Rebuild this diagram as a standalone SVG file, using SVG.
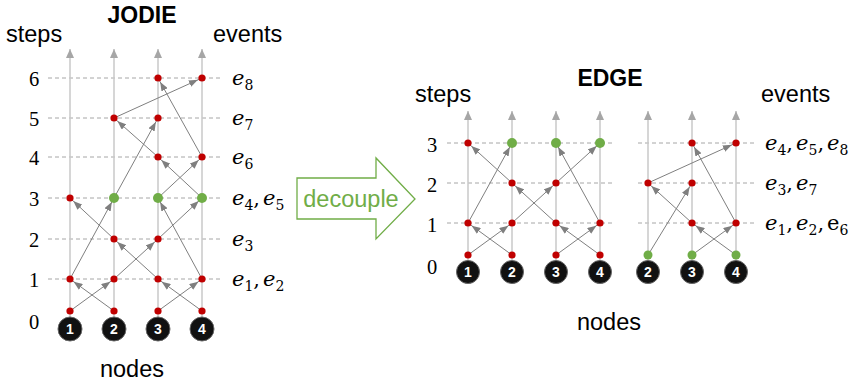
<svg xmlns="http://www.w3.org/2000/svg" width="853" height="387" viewBox="0 0 853 387">
<style>
.lbl{font-family:"Liberation Sans",Arial,sans-serif;font-size:23.5px;fill:#000}
.ttl{font-family:"Liberation Sans",Arial,sans-serif;font-size:23px;font-weight:bold;fill:#000}
.num{font-family:"Liberation Serif","Times New Roman",serif;font-size:20.5px;fill:#000;text-anchor:middle}
.ev{font-family:"DejaVu Serif","Liberation Serif",serif;font-size:21px;fill:#000}
.ev .i{font-style:italic}
.sub{font-size:14px}
.axis{stroke:#c8c8c8;stroke-width:1.5;fill:none}
.dash{stroke:#a6a6a6;stroke-width:1;stroke-dasharray:4 3;fill:none}
.edge{stroke:#7f7f7f;stroke-width:1;fill:none}
.red{fill:#c00000}
.grn{fill:#70ad47}
.nd circle{fill:#111;stroke:#666;stroke-width:1}
.nd text{font-family:"Liberation Sans",Arial,sans-serif;font-size:14px;font-weight:bold;fill:#fff;text-anchor:middle}
</style>
<defs>
<marker id="ah" markerUnits="userSpaceOnUse" markerWidth="9" markerHeight="7" refX="13.5" refY="3.5" orient="auto">
<path d="M0,0 L9,3.5 L0,7 z" fill="#7f7f7f"/>
</marker>
<marker id="up" markerUnits="userSpaceOnUse" markerWidth="9" markerHeight="8" refX="9" refY="4" orient="auto">
<path d="M0,0 L9,4 L0,8 z" fill="#a6a6a6"/>
</marker>
</defs>

<!-- JODIE panel -->
<g id="jodie-labels">
<text class="ttl" x="142" y="23" text-anchor="middle">JODIE</text>
<text class="lbl" x="6" y="42">steps</text>
<text class="lbl" x="213" y="42">events</text>
<text class="lbl" x="132" y="377" text-anchor="middle">nodes</text>
<text class="num" x="34" y="86">6</text>
<text class="num" x="34" y="126">5</text>
<text class="num" x="34" y="165">4</text>
<text class="num" x="34" y="206">3</text>
<text class="num" x="34" y="247">2</text>
<text class="num" x="34" y="287">1</text>
<text class="num" x="34" y="329">0</text>
<text class="ev" x="232" y="85"><tspan class="i">e</tspan><tspan class="sub" dy="5">8</tspan></text>
<text class="ev" x="232" y="125"><tspan class="i">e</tspan><tspan class="sub" dy="5">7</tspan></text>
<text class="ev" x="232" y="164"><tspan class="i">e</tspan><tspan class="sub" dy="5">6</tspan></text>
<text class="ev" x="232" y="205"><tspan class="i">e</tspan><tspan class="sub" dy="5">4</tspan><tspan dy="-5">,</tspan><tspan class="i" dx="3">e</tspan><tspan class="sub" dy="5">5</tspan></text>
<text class="ev" x="232" y="246"><tspan class="i">e</tspan><tspan class="sub" dy="5">3</tspan></text>
<text class="ev" x="232" y="286"><tspan class="i">e</tspan><tspan class="sub" dy="5">1</tspan><tspan dy="-5">,</tspan><tspan class="i" dx="3">e</tspan><tspan class="sub" dy="5">2</tspan></text>
</g>
<g id="jodie-grid">
<line class="dash" x1="48" y1="78" x2="223" y2="78"/>
<line class="dash" x1="48" y1="118" x2="223" y2="118"/>
<line class="dash" x1="48" y1="157" x2="223" y2="157"/>
<line class="dash" x1="48" y1="198" x2="223" y2="198"/>
<line class="dash" x1="48" y1="239" x2="223" y2="239"/>
<line class="dash" x1="48" y1="279" x2="223" y2="279"/>
<line class="axis" x1="70" y1="318" x2="70" y2="49" marker-end="url(#up)"/>
<line class="axis" x1="114" y1="318" x2="114" y2="49" marker-end="url(#up)"/>
<line class="axis" x1="158" y1="318" x2="158" y2="49" marker-end="url(#up)"/>
<line class="axis" x1="202" y1="318" x2="202" y2="49" marker-end="url(#up)"/>
</g>
<g id="jodie-connectors">
<line class="edge" x1="70" y1="311" x2="114" y2="279" marker-end="url(#ah)"/>
<line class="edge" x1="114" y1="311" x2="70" y2="279" marker-end="url(#ah)"/>
<line class="edge" x1="158" y1="311" x2="202" y2="279" marker-end="url(#ah)"/>
<line class="edge" x1="202" y1="311" x2="158" y2="279" marker-end="url(#ah)"/>
<line class="edge" x1="70" y1="279" x2="114" y2="198" marker-end="url(#ah)"/>
<line class="edge" x1="114" y1="239" x2="70" y2="198" marker-end="url(#ah)"/>
<line class="edge" x1="158" y1="279" x2="114" y2="239" marker-end="url(#ah)"/>
<line class="edge" x1="114" y1="279" x2="158" y2="239" marker-end="url(#ah)"/>
<line class="edge" x1="158" y1="239" x2="202" y2="198" marker-end="url(#ah)"/>
<line class="edge" x1="202" y1="279" x2="158" y2="198" marker-end="url(#ah)"/>
<line class="edge" x1="158" y1="198" x2="202" y2="157" marker-end="url(#ah)"/>
<line class="edge" x1="202" y1="198" x2="158" y2="157" marker-end="url(#ah)"/>
<line class="edge" x1="114" y1="198" x2="158" y2="118" marker-end="url(#ah)"/>
<line class="edge" x1="158" y1="157" x2="114" y2="118" marker-end="url(#ah)"/>
<line class="edge" x1="114" y1="118" x2="202" y2="78" marker-end="url(#ah)"/>
<line class="edge" x1="202" y1="157" x2="158" y2="78" marker-end="url(#ah)"/>
</g>
<g id="jodie-dots">
<circle class="red" cx="70" cy="311" r="3.6"/><circle class="red" cx="114" cy="311" r="3.6"/><circle class="red" cx="158" cy="311" r="3.6"/><circle class="red" cx="202" cy="311" r="3.6"/>
<circle class="red" cx="70" cy="279" r="3.6"/><circle class="red" cx="114" cy="279" r="3.6"/><circle class="red" cx="158" cy="279" r="3.6"/><circle class="red" cx="202" cy="279" r="3.6"/>
<circle class="red" cx="114" cy="239" r="3.6"/><circle class="red" cx="158" cy="239" r="3.6"/>
<circle class="red" cx="70" cy="198" r="3.6"/><circle class="grn" cx="114" cy="198" r="5"/><circle class="grn" cx="158" cy="198" r="5"/><circle class="grn" cx="202" cy="198" r="5"/>
<circle class="red" cx="158" cy="157" r="3.6"/><circle class="red" cx="202" cy="157" r="3.6"/>
<circle class="red" cx="114" cy="118" r="3.6"/><circle class="red" cx="158" cy="118" r="3.6"/>
<circle class="red" cx="158" cy="78" r="3.6"/><circle class="red" cx="202" cy="78" r="3.6"/>
</g>
<g id="jodie-node-1" class="nd"><circle cx="70" cy="329" r="12"/><text x="70" y="334">1</text></g>
<g id="jodie-node-2" class="nd"><circle cx="114" cy="329" r="12"/><text x="114" y="334">2</text></g>
<g id="jodie-node-3" class="nd"><circle cx="158" cy="329" r="12"/><text x="158" y="334">3</text></g>
<g id="jodie-node-4" class="nd"><circle cx="202" cy="329" r="12"/><text x="202" y="334">4</text></g>

<!-- decouple arrow -->
<g id="decouple">
<polygon points="297,178 376,178 376,158 415,199 376,239 376,219 297,219" fill="#fff" stroke="#70ad47" stroke-width="1.3"/>
<text x="351" y="207" text-anchor="middle" style="font-family:'Liberation Sans',Arial,sans-serif;font-size:23.5px;fill:#70ad47">decouple</text>
</g>

<!-- EDGE panel -->
<g id="edge-labels">
<text class="ttl" x="610" y="86" text-anchor="middle">EDGE</text>
<text class="lbl" x="415" y="102">steps</text>
<text class="lbl" x="761" y="102">events</text>
<text class="lbl" x="609" y="330" text-anchor="middle">nodes</text>
<text class="num" x="432" y="152">3</text>
<text class="num" x="432" y="192">2</text>
<text class="num" x="432" y="232">1</text>
<text class="num" x="432" y="274">0</text>
<text class="ev" x="765" y="150"><tspan class="i">e</tspan><tspan class="sub" dy="5">4</tspan><tspan dy="-5">,</tspan><tspan class="i" dx="3">e</tspan><tspan class="sub" dy="5">5</tspan><tspan dy="-5">,</tspan><tspan class="i" dx="3">e</tspan><tspan class="sub" dy="5">8</tspan></text>
<text class="ev" x="765" y="190"><tspan class="i">e</tspan><tspan class="sub" dy="5">3</tspan><tspan dy="-5">,</tspan><tspan class="i" dx="3">e</tspan><tspan class="sub" dy="5">7</tspan></text>
<text class="ev" x="765" y="230"><tspan class="i">e</tspan><tspan class="sub" dy="5">1</tspan><tspan dy="-5">,</tspan><tspan class="i" dx="3">e</tspan><tspan class="sub" dy="5">2</tspan><tspan dy="-5">,</tspan><tspan dx="3">e</tspan><tspan class="sub" dy="5">6</tspan></text>
</g>
<g id="edge-grid">
<line class="dash" x1="447" y1="143" x2="612" y2="143"/>
<line class="dash" x1="447" y1="183" x2="612" y2="183"/>
<line class="dash" x1="447" y1="223" x2="612" y2="223"/>
<line class="dash" x1="638" y1="143" x2="757" y2="143"/>
<line class="dash" x1="638" y1="183" x2="757" y2="183"/>
<line class="dash" x1="638" y1="223" x2="757" y2="223"/>
<line class="axis" x1="468" y1="261" x2="468" y2="111" marker-end="url(#up)"/>
<line class="axis" x1="512" y1="261" x2="512" y2="111" marker-end="url(#up)"/>
<line class="axis" x1="556" y1="261" x2="556" y2="111" marker-end="url(#up)"/>
<line class="axis" x1="600" y1="261" x2="600" y2="111" marker-end="url(#up)"/>
<line class="axis" x1="648" y1="261" x2="648" y2="111" marker-end="url(#up)"/>
<line class="axis" x1="692" y1="261" x2="692" y2="111" marker-end="url(#up)"/>
<line class="axis" x1="736" y1="261" x2="736" y2="111" marker-end="url(#up)"/>
</g>
<g id="edge-connectors">
<line class="edge" x1="468" y1="255" x2="512" y2="223" marker-end="url(#ah)"/>
<line class="edge" x1="512" y1="255" x2="468" y2="223" marker-end="url(#ah)"/>
<line class="edge" x1="556" y1="255" x2="600" y2="223" marker-end="url(#ah)"/>
<line class="edge" x1="600" y1="255" x2="556" y2="223" marker-end="url(#ah)"/>
<line class="edge" x1="468" y1="223" x2="512" y2="143" marker-end="url(#ah)"/>
<line class="edge" x1="512" y1="183" x2="468" y2="143" marker-end="url(#ah)"/>
<line class="edge" x1="556" y1="223" x2="512" y2="183" marker-end="url(#ah)"/>
<line class="edge" x1="512" y1="223" x2="556" y2="183" marker-end="url(#ah)"/>
<line class="edge" x1="556" y1="183" x2="600" y2="143" marker-end="url(#ah)"/>
<line class="edge" x1="600" y1="223" x2="556" y2="143" marker-end="url(#ah)"/>
<line class="edge" x1="692" y1="255" x2="736" y2="223" marker-end="url(#ah)"/>
<line class="edge" x1="736" y1="255" x2="692" y2="223" marker-end="url(#ah)"/>
<line class="edge" x1="648" y1="255" x2="692" y2="183" marker-end="url(#ah)"/>
<line class="edge" x1="692" y1="223" x2="648" y2="183" marker-end="url(#ah)"/>
<line class="edge" x1="648" y1="183" x2="736" y2="143" marker-end="url(#ah)"/>
<line class="edge" x1="736" y1="223" x2="692" y2="143" marker-end="url(#ah)"/>
</g>
<g id="edge-dots">
<circle class="red" cx="468" cy="255" r="3.6"/><circle class="red" cx="512" cy="255" r="3.6"/><circle class="red" cx="556" cy="255" r="3.6"/><circle class="red" cx="600" cy="255" r="3.6"/>
<circle class="red" cx="468" cy="223" r="3.6"/><circle class="red" cx="512" cy="223" r="3.6"/><circle class="red" cx="556" cy="223" r="3.6"/><circle class="red" cx="600" cy="223" r="3.6"/>
<circle class="red" cx="512" cy="183" r="3.6"/><circle class="red" cx="556" cy="183" r="3.6"/>
<circle class="red" cx="468" cy="143" r="3.6"/><circle class="grn" cx="512" cy="143" r="5"/><circle class="grn" cx="556" cy="143" r="5"/><circle class="grn" cx="600" cy="143" r="5"/>
<circle class="grn" cx="648" cy="255" r="4.5"/><circle class="grn" cx="692" cy="255" r="4.5"/><circle class="grn" cx="736" cy="255" r="4.5"/>
<circle class="red" cx="692" cy="223" r="3.6"/><circle class="red" cx="736" cy="223" r="3.6"/>
<circle class="red" cx="648" cy="183" r="3.6"/><circle class="red" cx="692" cy="183" r="3.6"/>
<circle class="red" cx="692" cy="143" r="3.6"/><circle class="red" cx="736" cy="143" r="3.6"/>
</g>
<g id="edge-node-1" class="nd"><circle cx="468" cy="272" r="11.5"/><text x="468" y="277">1</text></g>
<g id="edge-node-2" class="nd"><circle cx="512" cy="272" r="11.5"/><text x="512" y="277">2</text></g>
<g id="edge-node-3" class="nd"><circle cx="556" cy="272" r="11.5"/><text x="556" y="277">3</text></g>
<g id="edge-node-4" class="nd"><circle cx="600" cy="272" r="11.5"/><text x="600" y="277">4</text></g>
<g id="edge-node-2b" class="nd"><circle cx="648" cy="272" r="11.5"/><text x="648" y="277">2</text></g>
<g id="edge-node-3b" class="nd"><circle cx="692" cy="272" r="11.5"/><text x="692" y="277">3</text></g>
<g id="edge-node-4b" class="nd"><circle cx="736" cy="272" r="11.5"/><text x="736" y="277">4</text></g>
</svg>
